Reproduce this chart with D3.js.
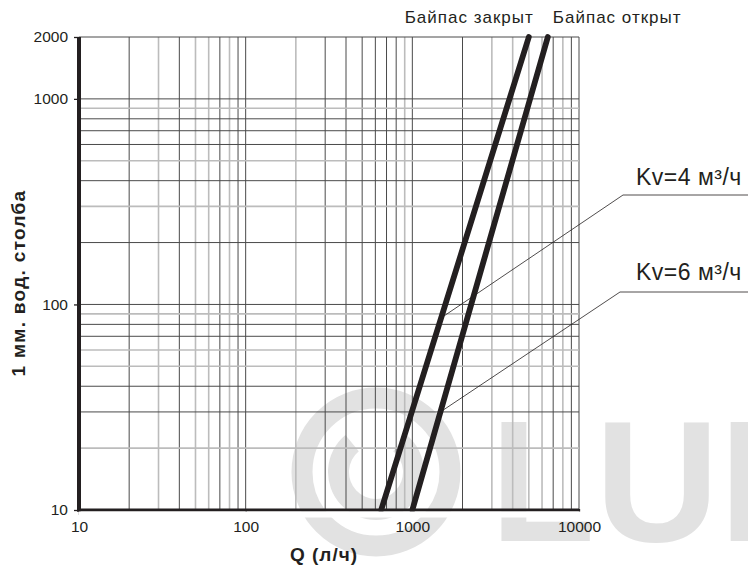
<!DOCTYPE html>
<html>
<head>
<meta charset="utf-8">
<script src="https://cdn.jsdelivr.net/npm/d3@7/dist/d3.min.js"></script>
<style>
  html, body { margin: 0; padding: 0; background: #fff; }
  svg { display: block; font-family: "Liberation Sans", Arial, Helvetica, sans-serif; }
</style>
</head>
<body>
<svg id="chart" width="748" height="568"></svg>
<script>
// Flow (l/h) vs pressure loss (mm water column), log-log
const xTicks = [10, 100, 1000, 10000];
const yTicks = [10, 100, 1000, 2000];
const xGrid = [20, 30, 40, 50, 60, 70, 80, 90, 100, 200, 300, 400, 500, 600, 700, 800, 900, 1000,
               2000, 3000, 4000, 5000, 6000, 7000, 8000, 9000, 10000];
const yGrid = [20, 30, 40, 50, 60, 70, 80, 90, 100, 200, 300, 400, 500, 600, 700, 800, 900, 1000, 2000];

const seriesNames = ["Байпас закрыт", "Байпас открыт"];
const kvLabels = ["Kv=4 м³/ч", "Kv=6 м³/ч"];
const closedQ = [650, 5000];
const closedP = [10, 2000];
const openQ = [1000, 6500];
const openP = [10, 2000];
// pressure at which each Kv leader touches its curve
const leaderP = [86, 30];

const xTitle = "Q (л/ч)";
const yTitle = "1 мм. вод. столба";

// grid lines printed in a lighter tone
const lightX = new Set([30, 50, 60, 80, 200, 900, 3000, 4000, 5000, 6000, 8000]);
const lightY = new Set([20, 50, 60, 90, 300, 500, 900]);

const ink = "#231f20";
const svg = d3.select("#chart");

const x = d3.scaleLog().domain([10, 10000]).range([79, 579]);
const y = d3.scaleLog().domain([10, 2000]).range([510, 37]);

// watermark
const wmColor = "#e2e2e2";
const wm = svg.append("g");
wm.append("circle").attr("cx", 376).attr("cy", 472).attr("r", 74)
  .attr("fill", "none").attr("stroke", wmColor).attr("stroke-width", 21);
const arc = d3.arc().innerRadius(27).outerRadius(48)
  .startAngle(Math.PI * 0.22).endAngle(Math.PI * 1.78);
wm.append("path").attr("transform", "translate(376,472)")
  .attr("d", arc).attr("fill", wmColor);
wm.append("text").attr("x", 490).attr("y", 541)
  .attr("font-size", 172).attr("font-weight", "bold")
  .attr("fill", wmColor).text("LUN");

// grid
const grid = svg.append("g");
grid.selectAll("line.vx").data(xGrid).join("line")
  .attr("x1", d => x(d)).attr("x2", d => x(d))
  .attr("y1", y(2000)).attr("y2", y(10))
  .attr("stroke", d => lightX.has(d) ? "#bcbcbc" : "#4a4a4a")
  .attr("stroke-width", d => lightX.has(d) ? 1.6 : 1);
grid.selectAll("line.hy").data(yGrid).join("line")
  .attr("y1", d => y(d)).attr("y2", d => y(d))
  .attr("x1", x(10)).attr("x2", x(10000))
  .attr("stroke", d => lightY.has(d) ? "#bcbcbc" : "#4a4a4a")
  .attr("stroke-width", d => lightY.has(d) ? 1.6 : 1);

// axes
const xAxis = d3.axisBottom(x).tickValues(xTicks).tickFormat(d3.format("d")).tickSize(5).tickPadding(6);
const yAxis = d3.axisLeft(y).tickValues(yTicks).tickFormat(d3.format("d")).tickSize(5).tickPadding(6);
const gx = svg.append("g").attr("transform", `translate(0,${y(10)})`).call(xAxis);
const gy = svg.append("g").attr("transform", `translate(${x(10)},0)`).call(yAxis);
[gx, gy].forEach(g => {
  g.select(".domain").remove();
  g.selectAll(".tick line").attr("stroke", ink).attr("stroke-width", 1.3);
  g.selectAll(".tick text").attr("fill", ink).attr("font-size", 15.5)
    .attr("font-family", "'Liberation Sans', Arial, sans-serif");
});
gx.selectAll(".tick line").attr("y1", -1);
svg.append("line").attr("x1", x(10) - 2).attr("x2", x(10000))
  .attr("y1", y(10)).attr("y2", y(10)).attr("stroke", ink).attr("stroke-width", 3);
svg.append("line").attr("x1", x(10)).attr("x2", x(10))
  .attr("y1", y(2000)).attr("y2", y(10) + 1.5).attr("stroke", ink).attr("stroke-width", 4);

// titles
svg.append("text").attr("x", 324).attr("y", 561).attr("text-anchor", "middle")
  .attr("font-size", 19).attr("font-weight", "bold").attr("letter-spacing", 1)
  .attr("fill", ink).text(xTitle);
svg.append("text").attr("transform", "translate(25,283) rotate(-90)").attr("text-anchor", "middle")
  .attr("font-size", 19).attr("font-weight", "bold").attr("letter-spacing", 1.3)
  .attr("fill", ink).text(yTitle);

// curves
const series = [
  { q: closedQ, p: closedP },
  { q: openQ, p: openP }
];
const line = d3.line().x(d => x(d[0])).y(d => y(d[1]));
svg.append("g").selectAll("path").data(series).join("path")
  .attr("d", s => line(s.q.map((q, i) => [q, s.p[i]])))
  .attr("fill", "none").attr("stroke", ink).attr("stroke-width", 5.8).attr("stroke-linecap", "round");
// squared-off bottom ends at the axis
svg.append("rect").attr("x", x(10)).attr("y", y(10) + 1.5).attr("width", 520).attr("height", 6).attr("fill", "#fff");

// curve names above the top ends
const topLabels = svg.append("g").attr("font-size", 17).attr("letter-spacing", 1).attr("fill", ink);
topLabels.append("text").attr("x", x(closedQ[1]) + 5).attr("y", 23).attr("text-anchor", "end").text(seriesNames[0]);
topLabels.append("text").attr("x", x(openQ[1]) + 5).attr("y", 23).attr("text-anchor", "start").text(seriesNames[1]);

// Kv call-outs with leader lines
function qAt(s, p) {
  const lp = Math.log10(p), lp0 = Math.log10(s.p[0]), lp1 = Math.log10(s.p[1]);
  const lq0 = Math.log10(s.q[0]), lq1 = Math.log10(s.q[1]);
  return Math.pow(10, lq0 + (lp - lp0) * (lq1 - lq0) / (lp1 - lp0));
}
const callouts = [
  { textX: 636, textY: 185, lineY: 195, elbowX: 623 },
  { textX: 636, textY: 280, lineY: 292, elbowX: 620 }
];
callouts.forEach((c, i) => {
  const s = series[i];
  const px = x(qAt(s, leaderP[i])), py = y(leaderP[i]);
  svg.append("path")
    .attr("d", `M${px},${py}L${c.elbowX},${c.lineY}L748,${c.lineY}`)
    .attr("fill", "none").attr("stroke", ink).attr("stroke-width", 0.8);
  svg.append("text").attr("x", c.textX).attr("y", c.textY)
    .attr("font-size", 23).attr("letter-spacing", 0.5).attr("fill", ink).text(kvLabels[i]);
});
</script>
</body>
</html>
